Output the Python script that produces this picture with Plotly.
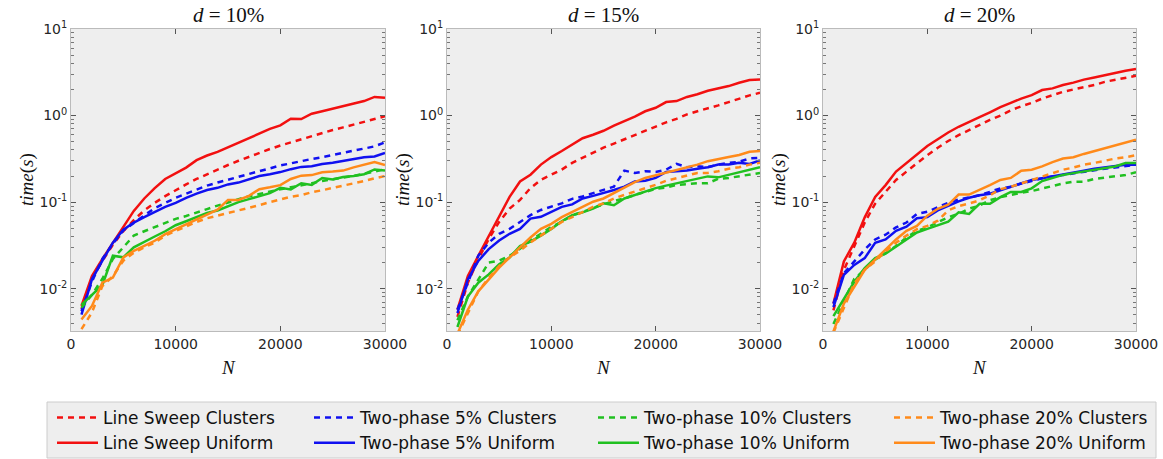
import plotly.graph_objects as go
from plotly.subplots import make_subplots

N = [1000 * k for k in range(1, 31)]

# d = 10%
ls_clu_10 = [0.0058, 0.013, 0.021, 0.032, 0.046, 0.062, 0.08, 0.098, 0.117, 0.138, 0.16, 0.185, 0.21, 0.238, 0.268,
             0.30, 0.335, 0.37, 0.41, 0.45, 0.49, 0.53, 0.58, 0.63, 0.68, 0.73, 0.79, 0.85, 0.91, 0.98]
ls_uni_10 = [0.0063, 0.014, 0.022, 0.034, 0.053, 0.079, 0.11, 0.145, 0.185, 0.215, 0.25, 0.305, 0.345, 0.38, 0.43,
             0.49, 0.545, 0.63, 0.70, 0.77, 0.92, 0.91, 1.05, 1.12, 1.2, 1.27, 1.37, 1.47, 1.64, 1.6]
tp5_clu_10 = [0.0055, 0.012, 0.022, 0.033, 0.047, 0.058, 0.07, 0.085, 0.098, 0.112, 0.125, 0.14, 0.155, 0.168, 0.182,
              0.197, 0.212, 0.228, 0.245, 0.265, 0.28, 0.298, 0.315, 0.33, 0.35, 0.37, 0.39, 0.41, 0.44, 0.49]
tp5_uni_10 = [0.005, 0.0128, 0.021, 0.034, 0.048, 0.058, 0.067, 0.077, 0.088, 0.098, 0.112, 0.125, 0.138, 0.146, 0.16,
              0.168, 0.185, 0.2, 0.21, 0.222, 0.24, 0.255, 0.26, 0.275, 0.285, 0.3, 0.315, 0.33, 0.336, 0.37]
tp10_clu_10 = [0.006, 0.0085, 0.013, 0.022, 0.03, 0.041, 0.046, 0.051, 0.057, 0.064, 0.069, 0.075, 0.083, 0.091, 0.099,
               0.108, 0.117, 0.124, 0.133, 0.141, 0.148, 0.155, 0.165, 0.175, 0.185, 0.192, 0.2, 0.21, 0.225, 0.24]
tp10_uni_10 = [0.0065, 0.0085, 0.011, 0.024, 0.023, 0.03, 0.035, 0.04, 0.046, 0.054, 0.06, 0.067, 0.075, 0.08, 0.09,
               0.1, 0.108, 0.118, 0.127, 0.146, 0.14, 0.165, 0.158, 0.19, 0.182, 0.195, 0.2, 0.21, 0.238, 0.232]
tp20_clu_10 = [0.0034, 0.0053, 0.0107, 0.0139, 0.021, 0.026, 0.03, 0.034, 0.041, 0.0466, 0.053, 0.059, 0.065, 0.0695,
               0.074, 0.08, 0.086, 0.092, 0.1, 0.107, 0.115, 0.12, 0.13, 0.137, 0.145, 0.155, 0.165, 0.175, 0.188, 0.2]
tp20_uni_10 = [0.0044, 0.0063, 0.0117, 0.0134, 0.0229, 0.0273, 0.0312, 0.0357, 0.0426, 0.0487, 0.0546, 0.0636, 0.0726,
               0.0815, 0.106, 0.106, 0.118, 0.141, 0.148, 0.157, 0.185, 0.202, 0.205, 0.221, 0.225, 0.231, 0.252, 0.268,
               0.29, 0.268]

# d = 15%
ls_clu_15 = [0.0047, 0.0117, 0.0219, 0.0375, 0.059, 0.084, 0.106, 0.145, 0.181, 0.207, 0.237, 0.284, 0.325, 0.372,
             0.425, 0.474, 0.533, 0.598, 0.667, 0.743, 0.835, 0.914, 1.03, 1.12, 1.2, 1.31, 1.43, 1.57, 1.71, 1.83]
ls_uni_15 = [0.0057, 0.014, 0.024, 0.041, 0.07, 0.115, 0.173, 0.207, 0.271, 0.331, 0.389, 0.466, 0.547, 0.599, 0.667,
             0.764, 0.859, 0.973, 1.12, 1.23, 1.43, 1.47, 1.64, 1.76, 1.93, 2.04, 2.19, 2.39, 2.57, 2.6]
tp5_clu_15 = [0.0057, 0.0117, 0.024, 0.034, 0.043, 0.049, 0.059, 0.0705, 0.081, 0.088, 0.0967, 0.109, 0.116, 0.127,
              0.138, 0.151, 0.231, 0.217, 0.227, 0.223, 0.237, 0.276, 0.253, 0.26, 0.253, 0.271, 0.284, 0.292, 0.319,
              0.325]
tp5_uni_15 = [0.0052, 0.0128, 0.0209, 0.0286, 0.0359, 0.043, 0.049, 0.0644, 0.0675, 0.077, 0.088, 0.094, 0.11, 0.118,
              0.127, 0.138, 0.151, 0.173, 0.176, 0.19, 0.223, 0.227, 0.231, 0.243, 0.253, 0.271, 0.271, 0.284, 0.276,
              0.302]
tp10_clu_15 = [0.0043, 0.0081, 0.0127, 0.02, 0.021, 0.024, 0.0288, 0.036, 0.043, 0.0516, 0.059, 0.0705, 0.077, 0.0857,
               0.094, 0.103, 0.11, 0.121, 0.132, 0.142, 0.147, 0.158, 0.161, 0.165, 0.165, 0.186, 0.19, 0.198, 0.207,
               0.217]
tp10_uni_15 = [0.0036, 0.0081, 0.0117, 0.0146, 0.0191, 0.0229, 0.031, 0.035, 0.041, 0.049, 0.06, 0.0705, 0.076,
               0.0843, 0.0967, 0.092, 0.11, 0.121, 0.132, 0.145, 0.155, 0.165, 0.176, 0.186, 0.198, 0.193, 0.207, 0.223,
               0.237, 0.253]
tp20_clu_15 = [0.0029, 0.0052, 0.0093, 0.0133, 0.0183, 0.0229, 0.0275, 0.0342, 0.041, 0.049, 0.059, 0.067, 0.077,
               0.088, 0.0967, 0.11, 0.121, 0.132, 0.145, 0.158, 0.176, 0.19, 0.204, 0.217, 0.217, 0.227, 0.243, 0.253,
               0.271, 0.284]
tp20_uni_15 = [0.003, 0.0057, 0.0093, 0.0127, 0.0175, 0.0229, 0.03, 0.039, 0.049, 0.056, 0.067, 0.077, 0.088, 0.101,
               0.11, 0.127, 0.147, 0.17, 0.19, 0.204, 0.217, 0.237, 0.253, 0.271, 0.297, 0.311, 0.331, 0.35, 0.382,
               0.389]

# d = 20%
ls_clu_20 = [0.0056, 0.0164, 0.0309, 0.058, 0.096, 0.131, 0.18, 0.225, 0.282, 0.348, 0.424, 0.508, 0.593, 0.678, 0.784,
             0.89, 1.0, 1.15, 1.28, 1.4, 1.57, 1.72, 1.88, 2.0, 2.1, 2.25, 2.45, 2.6, 2.75, 2.88]
ls_uni_20 = [0.0067, 0.0206, 0.0339, 0.0666, 0.1145, 0.157, 0.225, 0.282, 0.354, 0.444, 0.531, 0.637, 0.742, 0.835,
             0.956, 1.09, 1.25, 1.4, 1.57, 1.72, 1.97, 2.06, 2.25, 2.4, 2.6, 2.75, 2.95, 3.1, 3.3, 3.45]
tp5_clu_20 = [0.0067, 0.015, 0.0206, 0.0283, 0.037, 0.042, 0.051, 0.058, 0.073, 0.0775, 0.087, 0.098, 0.107, 0.114,
              0.12, 0.131, 0.144, 0.15, 0.164, 0.175, 0.188, 0.197, 0.206, 0.216, 0.226, 0.236, 0.243, 0.251, 0.258,
              0.27]
tp5_uni_20 = [0.0061, 0.0144, 0.0188, 0.0225, 0.0339, 0.037, 0.0465, 0.052, 0.065, 0.067, 0.08, 0.091, 0.102, 0.112,
              0.12, 0.125, 0.137, 0.15, 0.164, 0.18, 0.188, 0.197, 0.206, 0.216, 0.23, 0.243, 0.251, 0.258, 0.27, 0.27]
tp10_clu_20 = [0.0039, 0.0073, 0.013, 0.0165, 0.0216, 0.0258, 0.031, 0.039, 0.0465, 0.051, 0.058, 0.067, 0.073, 0.084,
               0.091, 0.105, 0.114, 0.122, 0.128, 0.134, 0.144, 0.155, 0.164, 0.172, 0.172, 0.185, 0.192, 0.202, 0.206,
               0.221]
tp10_uni_20 = [0.0048, 0.0076, 0.012, 0.0173, 0.0225, 0.0253, 0.0305, 0.037, 0.0445, 0.049, 0.0535, 0.0595, 0.076,
               0.073, 0.0956, 0.0956, 0.114, 0.131, 0.131, 0.144, 0.175, 0.188, 0.206, 0.216, 0.226, 0.236, 0.247,
               0.258, 0.283, 0.283]
tp20_clu_20 = [0.0031, 0.0061, 0.0115, 0.0165, 0.0206, 0.027, 0.0339, 0.041, 0.0485, 0.053, 0.061, 0.08, 0.09, 0.096,
               0.105, 0.12, 0.141, 0.15, 0.164, 0.18, 0.197, 0.216, 0.236, 0.251, 0.27, 0.283, 0.301, 0.318, 0.33,
               0.348]
tp20_uni_20 = [0.0032, 0.0067, 0.0105, 0.0165, 0.0216, 0.0283, 0.037, 0.0465, 0.053, 0.0697, 0.0836, 0.093, 0.122,
               0.122, 0.137, 0.157, 0.18, 0.19, 0.23, 0.236, 0.258, 0.29, 0.318, 0.33, 0.36, 0.388, 0.424, 0.456, 0.486,
               0.525]

titles = ["<i>d</i> = 10%", "<i>d</i> = 15%", "<i>d</i> = 20%"]
names = ["Line Sweep", "Two-phase 5%", "Two-phase 10%", "Two-phase 20%"]
colors = ["#f21010", "#1010f0", "#20c020", "#ff8a1a"]

panels = [
    ([ls_clu_10, tp5_clu_10, tp10_clu_10, tp20_clu_10], [ls_uni_10, tp5_uni_10, tp10_uni_10, tp20_uni_10]),
    ([ls_clu_15, tp5_clu_15, tp10_clu_15, tp20_clu_15], [ls_uni_15, tp5_uni_15, tp10_uni_15, tp20_uni_15]),
    ([ls_clu_20, tp5_clu_20, tp10_clu_20, tp20_clu_20], [ls_uni_20, tp5_uni_20, tp10_uni_20, tp20_uni_20]),
]

legend_ids = ["legend", "legend2", "legend3", "legend4"]

fig = make_subplots(rows=1, cols=3)

for p, (clu, uni) in enumerate(panels):
    for i in range(4):
        fig.add_trace(go.Scatter(x=N, y=clu[i], mode="lines", name=names[i] + " Clusters",
                                 line=dict(color=colors[i], width=2.5, dash="6px,5px"),
                                 legend=legend_ids[i], showlegend=(p == 0)), row=1, col=p + 1)
        fig.add_trace(go.Scatter(x=N, y=uni[i], mode="lines", name=names[i] + " Uniform",
                                 line=dict(color=colors[i], width=2.5),
                                 legend=legend_ids[i], showlegend=(p == 0)), row=1, col=p + 1)

W, H = 1163, 459
xdoms = [(71, 385), (447, 760), (823, 1136)]
ydom = [1 - 331 / H, 1 - 29 / H]

minor_vals = []
for e in range(-3, 1):
    for m in range(2, 10):
        minor_vals.append(m * 10 ** e)

tickfont = dict(family="DejaVu Sans", size=14, color="#262626")
for p in range(3):
    x0, x1 = xdoms[p]
    fig.update_xaxes(domain=[x0 / W, x1 / W], range=[0, 30000], tickvals=[0, 10000, 20000, 30000],
                     ticktext=["0", "10000", "20000", "30000"], ticks="inside", ticklen=5, tickcolor="#555",
                     mirror="ticks", showline=True, linecolor="#bbbbbb", linewidth=1, showgrid=False,
                     zeroline=False, tickfont=tickfont, row=1, col=p + 1)
    fig.update_yaxes(domain=ydom, type="log", range=[-2.49, 1.0], tickvals=[0.01, 0.1, 1, 10],
                     ticktext=["10<sup>-2</sup>", "10<sup>-1</sup>", "10<sup>0</sup>", "10<sup>1</sup>"],
                     ticks="inside", ticklen=5, tickcolor="#555", mirror="ticks", showline=True,
                     linecolor="#bbbbbb", linewidth=1, showgrid=False, zeroline=False, tickfont=tickfont,
                     minor=dict(tickvals=minor_vals, ticks="inside", ticklen=3, tickcolor="#777", showgrid=False),
                     row=1, col=p + 1)
    xc = (x0 + x1) / 2 / W
    fig.add_annotation(text=titles[p], x=xc, y=1 - 15 / H, xref="paper", yref="paper", showarrow=False,
                       xanchor="center", yanchor="middle",
                       font=dict(family="Liberation Serif", size=21, color="#111"))
    fig.add_annotation(text="<i>N</i>", x=xc, y=1 - 367 / H, xref="paper", yref="paper", showarrow=False,
                       xanchor="center", yanchor="middle",
                       font=dict(family="Liberation Serif", size=19, color="#111"))
    fig.add_annotation(text="<i>time</i>(<i>s</i>)", x=(x0 - 44) / W, y=(ydom[0] + ydom[1]) / 2, xref="paper",
                       yref="paper", showarrow=False, textangle=-90, xanchor="center", yanchor="middle",
                       font=dict(family="Liberation Serif", size=19, color="#111"))

# legend frame shared by the four legend columns
fig.add_shape(type="rect", xref="paper", yref="paper", x0=47 / W, x1=1156 / W, y0=1 - 458 / H, y1=1 - 402 / H,
              fillcolor="#eeeeee", line=dict(color="#cccccc", width=1), layer="below")

col_x = [52, 309, 593, 889]
legends = {}
for i, lid in enumerate(legend_ids):
    legends[lid] = dict(orientation="v", x=col_x[i] / W, y=1 - 400 / H, xanchor="left", yanchor="top",
                        bgcolor="rgba(0,0,0,0)", borderwidth=0, itemwidth=41, traceorder="normal",
                        font=dict(family="DejaVu Sans", size=17, color="#111"), tracegroupgap=0)

fig.update_layout(
    width=W, height=H,
    margin=dict(l=0, r=0, t=0, b=0, autoexpand=False),
    paper_bgcolor="white",
    plot_bgcolor="#eeeeee",
    **legends,
)

# page has a default body margin; drop it so the figure sits at the window origin
fig.write_html("out.html", config={"displayModeBar": False},
               post_script="document.body.style.margin = '0';")
